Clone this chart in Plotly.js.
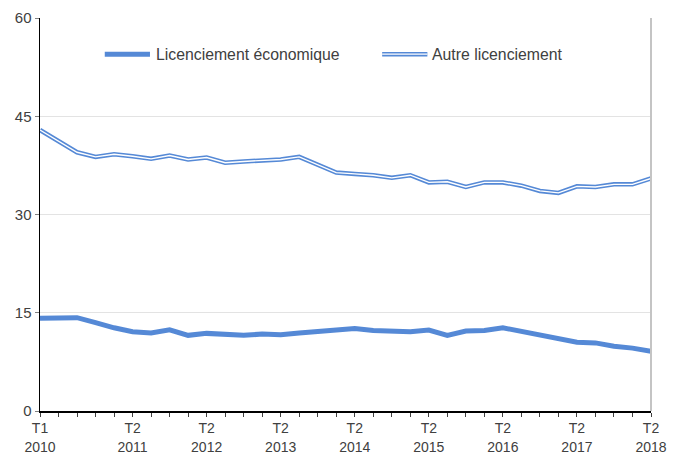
<!DOCTYPE html>
<html>
<head>
<meta charset="utf-8">
<script src="https://cdn.plot.ly/plotly-3.0.1.min.js"></script>
<style>html,body{margin:0;padding:0;background:#fff;}#chart{width:684px;height:455px;}</style>
</head>
<body>
<div id="chart"></div>
<script>
// Quarters T1 2010 .. T2 2018 (34 quarters)
const quarters = [
  "T1 2010","T2 2010","T3 2010","T4 2010",
  "T1 2011","T2 2011","T3 2011","T4 2011",
  "T1 2012","T2 2012","T3 2012","T4 2012",
  "T1 2013","T2 2013","T3 2013","T4 2013",
  "T1 2014","T2 2014","T3 2014","T4 2014",
  "T1 2015","T2 2015","T3 2015","T4 2015",
  "T1 2016","T2 2016","T3 2016","T4 2016",
  "T1 2017","T2 2017","T3 2017","T4 2017",
  "T1 2018","T2 2018"
];
const economique = [
  14.15, 14.15, 14.25, 13.5, 12.7, 12.1, 11.9, 12.4, 11.55, 11.85,
  11.7, 11.55, 11.75, 11.65, 11.9, 12.15, 12.4, 12.6, 12.3, 12.2,
  12.1, 12.35, 11.55, 12.2, 12.3, 12.7, 12.15, 11.55, 11.15, 10.5,
  10.4, 9.9, 9.6, 9.1
];
const autre = [
  42.9, 41.2, 39.5, 38.8, 39.2, 38.9, 38.5, 39.0, 38.4, 38.7,
  37.9, 38.1, 38.2, 38.4, 38.8, 37.6, 36.4, 36.2, 36.0, 35.6,
  36.0, 34.9, 35.0, 34.2, 34.9, 34.9, 34.4, 33.6, 33.3, 34.3,
  34.2, 34.6, 34.6, 35.5
];
const labelledQuarters = ["T1 2010","T2 2011","T2 2012","T2 2013","T2 2014","T2 2015","T2 2016","T2 2017","T2 2018"];
const yTicks = [0, 15, 30, 45, 60];
const seriesNames = ["Licenciement économique", "Autre licenciement"];

const blue = "#5589D6";
const xIdx = quarters.map((q, i) => i);
const tickText = quarters.map(q => labelledQuarters.includes(q) ? q.replace(" ", "<br>") : "");

const traces = [
  {x: xIdx, y: economique, type: "scatter", mode: "lines", name: seriesNames[0],
   line: {color: blue, width: 5}, showlegend: false, hoverinfo: "skip"},
  {x: xIdx, y: autre, type: "scatter", mode: "lines", name: seriesNames[1],
   line: {color: blue, width: 4.5}, showlegend: false, hoverinfo: "skip"},
  {x: xIdx, y: autre, type: "scatter", mode: "lines", name: seriesNames[1],
   line: {color: "#ffffff", width: 1.4}, showlegend: false, hoverinfo: "skip"}
];

const legY = 0.908;
const layout = {
  width: 684, height: 455,
  margin: {l: 40, r: 33, t: 18, b: 44},
  paper_bgcolor: "#fff", plot_bgcolor: "#fff",
  font: {family: "Liberation Sans, Arial, sans-serif", size: 15, color: "#404040"},
  xaxis: {
    range: [0, quarters.length - 1],
    tickmode: "array", tickvals: xIdx, ticktext: tickText,
    ticks: "outside", ticklen: 4, tickcolor: "#404040", tickwidth: 1,
    showline: true, linecolor: "#000", linewidth: 1.5,
    showgrid: false, zeroline: false, fixedrange: true,
    tickfont: {size: 14, color: "#404040"}, tickangle: 0
  },
  yaxis: {
    range: [0, 60], tickvals: yTicks,
    ticks: "outside", ticklen: 4, tickcolor: "#808080",
    showline: true, linecolor: "#000", linewidth: 1.5,
    showgrid: true, gridcolor: "#e3e3e3", gridwidth: 1,
    zeroline: false, fixedrange: true,
    tickfont: {size: 15, color: "#404040"}
  },
  shapes: [
    {type: "line", xref: "paper", yref: "paper", x0: 1, x1: 1, y0: 0, y1: 1,
     line: {color: "#c4c4c4", width: 2}},
    {type: "line", xref: "paper", yref: "paper", x0: 0.106, x1: 0.18, y0: legY, y1: legY,
     line: {color: blue, width: 5}},
    {type: "line", xref: "paper", yref: "paper", x0: 0.56, x1: 0.634, y0: legY, y1: legY,
     line: {color: blue, width: 4.5}},
    {type: "line", xref: "paper", yref: "paper", x0: 0.56, x1: 0.634, y0: legY, y1: legY,
     line: {color: "#ffffff", width: 1.4}}
  ],
  annotations: [
    {xref: "paper", yref: "paper", x: 0.186, y: legY, xanchor: "left", yanchor: "middle",
     text: seriesNames[0], showarrow: false, font: {size: 15.8, color: "#404040"}},
    {xref: "paper", yref: "paper", x: 0.639, y: legY, xanchor: "left", yanchor: "middle",
     text: seriesNames[1], showarrow: false, font: {size: 15.8, color: "#404040"}}
  ],
  showlegend: false
};

Plotly.newPlot("chart", traces, layout, {displayModeBar: false, staticPlot: true});
</script>
</body>
</html>
